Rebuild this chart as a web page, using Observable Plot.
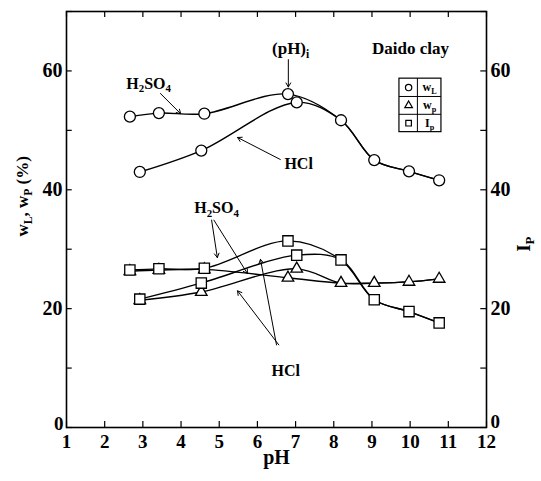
<!DOCTYPE html>
<html><head><meta charset="utf-8">
<script src="https://cdn.jsdelivr.net/npm/d3@7"></script>
<script src="https://cdn.jsdelivr.net/npm/@observablehq/plot@0.6"></script>
<style>body{margin:0;background:#fff;}</style>
</head><body><div id="chart"></div>
<script>
// ---- data ----
// pH of the samples (H2SO4 branch, HCl branch, and the common alkaline branch)
const phH2SO4 = [2.66, 3.42, 4.61, 6.80];
const phHCl   = [2.92, 4.53, 7.03];
const phShared = [8.19, 9.06, 9.97, 10.76];

// liquid limit w_L (%)
const wLH2SO4 = [52.3, 52.9, 52.8, 56.1];
const wLHCl   = [43.0, 46.6, 54.7];
const wLShared = [51.7, 45.0, 43.1, 41.6];

// plastic limit w_p (%)
const wpH2SO4 = [26.3, 26.5, 26.6, 25.2];
const wpHCl   = [21.4, 22.8, 26.7];
const wpShared = [24.3, 24.3, 24.5, 25.0];

// plasticity index I_p
const ipH2SO4 = [26.5, 26.7, 26.8, 31.4];
const ipHCl   = [21.6, 24.3, 29.0];
const ipShared = [28.2, 21.5, 19.5, 17.6];

const xTicks = [1,2,3,4,5,6,7,8,9,10,11,12];
const yTicksLabeled = [20, 40, 60];
const yTickZero = [0];
const yTicksMinor = [0,10,20,30,40,50,60,70];
const xDomain = [1, 12];
const yDomain = [0, 70];

const quantities = ["wL", "wp", "Ip"];
const quantitySymbols = {wL: "circle", wp: "triangle", Ip: "square"};
const legendLabels = ["w_{L}", "w_{p}", "I_{p}"];
const legendRowY = [57.2, 54.2, 51.2];
const legendBox = [{x1: 9.72, x2: 10.82, y1: 49.7, y2: 58.7}];
const legendDividerX = [10.19];
const legendDividerY = [55.7, 52.7];
const legendSymbolX = 9.96;
const legendLabelX = 10.51;

const annotations = [
  {x: 6.87, y: 63.8, t: "(pH)_{i}", size: 17},
  {x: 10.01, y: 63.8, t: "Daido clay", size: 17},
  {x: 3.15, y: 57.9, t: "H_{2}SO_{4}", size: 16},
  {x: 7.08, y: 44.3, t: "HCl", size: 16},
  {x: 4.93, y: 36.9, t: "H_{2}SO_{4}", size: 16},
  {x: 6.74, y: 9.6, t: "HCl", size: 16}
];
const arrows = [
  {x1: 6.81, y1: 61.9, x2: 6.81, y2: 57.3},
  {x1: 3.46, y1: 56.2, x2: 3.99, y2: 52.8},
  {x1: 6.60, y1: 45.1, x2: 5.48, y2: 48.8},
  {x1: 4.80, y1: 34.9, x2: 4.95, y2: 28.6},
  {x1: 4.86, y1: 34.9, x2: 5.74, y2: 25.9},
  {x1: 6.50, y1: 13.9, x2: 6.08, y2: 28.3},
  {x1: 6.56, y1: 13.9, x2: 5.48, y2: 23.0}
];

// ---- build tables ----
const values = {
  H2SO4: {wL: wLH2SO4, wp: wpH2SO4, Ip: ipH2SO4},
  HCl: {wL: wLHCl, wp: wpHCl, Ip: ipHCl},
  shared: {wL: wLShared, wp: wpShared, Ip: ipShared}
};
const phs = {H2SO4: phH2SO4, HCl: phHCl, shared: phShared};

const lineRows = [];
for (const acid of ["H2SO4", "HCl"]) {
  for (const q of quantities) {
    const xs = phs[acid].concat(phs.shared);
    const ys = values[acid][q].concat(values.shared[q]);
    xs.forEach((x, i) => lineRows.push({pH: x, v: ys[i], series: acid + q}));
  }
}
const pointRows = [];
for (const grp of ["H2SO4", "HCl", "shared"]) {
  for (const q of quantities) {
    phs[grp].forEach((x, i) => pointRows.push({pH: x, v: values[grp][q][i], q}));
  }
}
const legendRows = quantities.map((q, i) => ({q, y: legendRowY[i], label: legendLabels[i]}));

const dotStyle = {fill: "white", stroke: "black", strokeWidth: 1.3};
// inward tick lengths expressed in scale units (~6 px)
const tickLenY = 1.0;
const tickLenX = 0.15;

const chart = Plot.plot({
  width: 541, height: 481,
  marginLeft: 66, marginRight: 55, marginTop: 11, marginBottom: 54,
  x: {domain: xDomain},
  y: {domain: yDomain},
  style: {fontFamily: "'Liberation Serif', 'Times New Roman', serif", fontWeight: "bold", color: "black", background: "white"},
  marks: [
    // inward ticks on all four sides
    Plot.ruleX(xTicks, {y1: yDomain[0], y2: yDomain[0] + tickLenY, stroke: "black", strokeWidth: 1.2}),
    Plot.ruleX(xTicks, {y1: yDomain[1], y2: yDomain[1] - tickLenY, stroke: "black", strokeWidth: 1.2}),
    Plot.ruleY(yTicksMinor, {x1: xDomain[0], x2: xDomain[0] + tickLenX, stroke: "black", strokeWidth: 1.2}),
    Plot.ruleY(yTicksMinor, {x1: xDomain[1], x2: xDomain[1] - tickLenX, stroke: "black", strokeWidth: 1.2}),
    Plot.frame({stroke: "black", strokeWidth: 1.6}),
    // tick labels
    Plot.axisX({anchor: "bottom", ticks: xTicks, tickSize: 0, tickPadding: 7, fontSize: 19, label: null}),
    Plot.axisY({anchor: "left", ticks: yTicksLabeled, tickSize: 0, tickPadding: 4, fontSize: 20, label: null}),
    Plot.axisY({anchor: "right", ticks: yTicksLabeled, tickSize: 0, tickPadding: 4, fontSize: 20, label: null}),
    Plot.axisY({anchor: "left", ticks: yTickZero, tickSize: 0, tickPadding: 3, dy: -4, fontSize: 19, label: null}),
    Plot.axisY({anchor: "right", ticks: yTickZero, tickSize: 0, tickPadding: 4, dy: -6, fontSize: 19, label: null}),
    // axis titles
    Plot.text(["w_{L}, w_{P} (%)"], {text: d => d, frameAnchor: "left", dx: -44, dy: 17, rotate: -90, fontSize: 17}),
    Plot.text(["I_{P}"], {text: d => d, frameAnchor: "right", dx: 37, dy: 17, rotate: -90, fontSize: 19}),
    Plot.text(["pH"], {text: d => d, frameAnchor: "bottom", dy: 36, fontSize: 20}),
    // curves
    Plot.line(lineRows, {x: "pH", y: "v", z: "series", curve: "catmull-rom", stroke: "black", strokeWidth: 1.4}),
    // markers
    Plot.dot(pointRows.filter(d => d.q === "wp"), {x: "pH", y: "v", symbol: "triangle", r: 4.3, ...dotStyle}),
    Plot.dot(pointRows.filter(d => d.q === "Ip"), {x: "pH", y: "v", symbol: "square", r: 5.8, ...dotStyle}),
    Plot.dot(pointRows.filter(d => d.q === "wL"), {x: "pH", y: "v", symbol: "circle", r: 5.5, ...dotStyle}),
    // annotations
    Plot.arrow(arrows, {x1: "x1", y1: "y1", x2: "x2", y2: "y2", stroke: "black", strokeWidth: 1, headLength: 7}),
    Plot.text(annotations, {x: "x", y: "y", text: "t", fontSize: d => d.size}),
    // legend table
    Plot.rect(legendBox, {x1: "x1", x2: "x2", y1: "y1", y2: "y2", fill: "white", stroke: "black", strokeWidth: 1.2}),
    Plot.ruleX(legendDividerX, {y1: legendBox[0].y1, y2: legendBox[0].y2, stroke: "black"}),
    Plot.ruleY(legendDividerY, {x1: legendBox[0].x1, x2: legendBox[0].x2, stroke: "black"}),
    Plot.dot(legendRows, {x: () => legendSymbolX, y: "y", symbol: d => quantitySymbols[d.q], r: d => d.q === "wp" ? 4.5 : 5.6, fill: "white", stroke: "black", strokeWidth: 1.2}),
    Plot.text(legendRows, {x: () => legendLabelX, y: "y", text: "label", fontSize: 12})
  ]
});

// render "_{...}" as subscripts
d3.select(chart).selectAll("text").each(function () {
  const t = this.textContent;
  if (!t.includes("_{")) return;
  const sel = d3.select(this);
  sel.text(null);
  const re = /_\{([^}]*)\}/g;
  const parts = [];
  let last = 0, m;
  while ((m = re.exec(t))) {
    if (m.index > last) parts.push({txt: t.slice(last, m.index), sub: false});
    parts.push({txt: m[1], sub: true});
    last = re.lastIndex;
  }
  if (last < t.length) parts.push({txt: t.slice(last), sub: false});
  let shifted = false;
  for (const p of parts) {
    const ts = sel.append("tspan").text(p.txt);
    if (p.sub) {
      ts.attr("font-size", "68%");
      if (!shifted) { ts.attr("dy", "0.35em"); shifted = true; }
    } else if (shifted) {
      ts.attr("dy", "-0.24em"); shifted = false;
    }
  }
});

document.getElementById("chart").appendChild(chart);
</script>
</body></html>
